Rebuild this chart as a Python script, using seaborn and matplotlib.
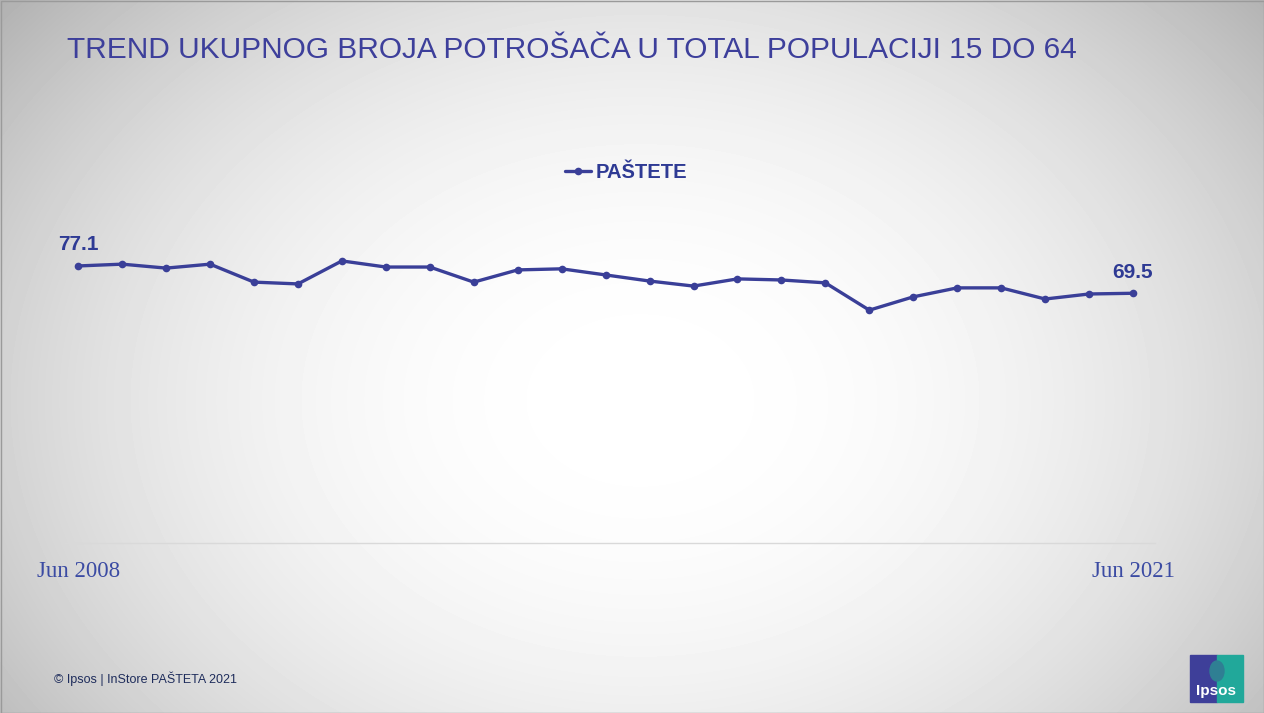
import numpy as np
import pandas as pd
import matplotlib.pyplot as plt
import matplotlib.patches as mpatches
import seaborn as sns

# data
waves = list(range(25))
pastete = [77.1, 77.6, 76.5, 77.6, 72.6, 72.1, 78.5, 76.8, 76.8, 72.6,
           76.0, 76.3, 74.6, 72.9, 71.5, 73.5, 73.2, 72.4, 64.8, 68.5,
           71.0, 71.0, 67.9, 69.3, 69.5]
tick_pos = [0, 24]
tick_labels = ["Jun 2008", "Jun 2021"]
series_name = "PAŠTETE"

df = pd.DataFrame({"wave": waves, "value": pastete})

sns.set_style("white")
plt.rcParams['font.family'] = ['DejaVu Sans']
narrow = ['Liberation Sans Narrow', 'Liberation Sans', 'DejaVu Sans']
blue = "#3a3f98"

fig = plt.figure(figsize=(12.64, 7.13), dpi=100)

# background radial gradient
bg = fig.add_axes([0, 0, 1, 1], zorder=-1)
yy, xx = np.mgrid[0:713, 0:1264]
r = np.sqrt(((xx - 640) / 820) ** 2 + ((yy - 400) / 620) ** 2)
shade = 1 - 0.30 * np.clip(r, 0, 1.4) ** 2.2
bg.imshow(shade, cmap="gray", vmin=0, vmax=1, aspect="auto",
          extent=[0, 1264, 713, 0])
bg.set_xlim(0, 1264)
bg.set_ylim(713, 0)
bg.axis("off")
bg.add_patch(mpatches.Rectangle((0.5, 0.5), 1263, 712, fill=False,
                                edgecolor="#9a9a9a", lw=1))

# Ipsos logo
bg.add_patch(mpatches.Rectangle((1190, 655), 27, 47, color="#3e3f99"))
bg.add_patch(mpatches.Rectangle((1217, 655), 26, 47, color="#21a89a"))
bg.add_patch(mpatches.Ellipse((1217, 671), 14, 20, color="#2f7f93"))
bg.text(1216, 691, "Ipsos", color="white", fontsize=11, fontweight="bold",
        ha="center", va="center", family=narrow)

# main line chart
ax = fig.add_axes([65 / 1264, 170 / 713, 1090 / 1264, 323.4 / 713])
ax.patch.set_alpha(0)
sns.lineplot(data=df, x="wave", y="value", ax=ax, color=blue, lw=2.4,
             marker="o", markersize=5.5, markeredgewidth=0, label=series_name)
ax.set_ylim(0, 90)
ax.set_xlim(-0.3, 24.5)
for s in ["top", "left", "right"]:
    ax.spines[s].set_visible(False)
ax.spines["bottom"].set_color("#d9d9d9")
ax.spines["bottom"].set_linewidth(1)
ax.set_yticks([])
ax.set_xticks(tick_pos)
ax.set_xticklabels(tick_labels, family=['Liberation Serif', 'DejaVu Serif'],
                   fontsize=16.5, color="#3b4ba3")
ax.tick_params(axis="x", length=0, pad=13)
ax.set_xlabel("")
ax.set_ylabel("")

for i in [0, len(waves) - 1]:
    ax.annotate(f"{pastete[i]:.1f}", (waves[i], pastete[i]),
                xytext=(0, 21), textcoords="offset pixels", ha="center",
                va="center", fontsize=15, fontweight="bold", color="#2e3a94",
                family=narrow)

leg = ax.legend(loc="center", bbox_to_anchor=(626 / 1264, 1 - 173 / 713),
                bbox_transform=fig.transFigure, frameon=False,
                handlelength=1.3, handletextpad=0.2,
                prop={"family": narrow, "weight": "bold", "size": 14.5})
for t in leg.get_texts():
    t.set_color("#2e3a94")

# title and footer
fig.text(67 / 1264, 1 - 50 / 713,
         "TREND UKUPNOG BROJA POTROŠAČA U TOTAL POPULACIJI 15 DO 64",
         fontsize=21.5, color="#3d3f9b", va="center", ha="left", family=narrow)
fig.text(54 / 1264, 1 - 679 / 713, "© Ipsos | InStore PAŠTETA 2021",
         fontsize=9, color="#1f2d5c", va="center", ha="left", family=narrow)

fig.savefig("out.png", dpi=100)
